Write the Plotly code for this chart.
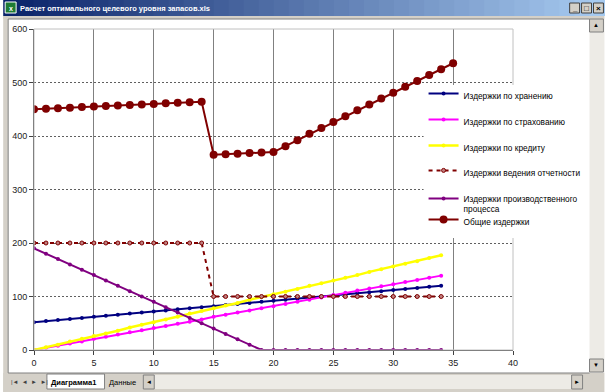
import plotly.graph_objects as go

# ---------------- data ----------------
x_parts = [0, 1, 2, 3, 4, 5, 6, 7, 8, 9, 10, 11, 12, 13, 14, 15, 16, 17, 18, 19,
           20, 21, 22, 23, 24, 25, 26, 27, 28, 29, 30, 31, 32, 33, 34]
x_total = [0, 1, 2, 3, 4, 5, 6, 7, 8, 9, 10, 11, 12, 13, 14, 15, 16, 17, 18, 19,
           20, 21, 22, 23, 24, 25, 26, 27, 28, 29, 30, 31, 32, 33, 34, 35]

storage = [52, 54, 56, 58, 60, 62, 64, 66, 68, 70, 72, 74, 76, 78, 80, 82, 84, 86,
           88, 90, 92, 94, 96, 98, 100, 102, 104, 106, 108, 110, 112, 114, 116, 118, 120]
insurance = [0, 4, 8, 12, 16, 21, 25, 29, 33, 37, 41, 45, 49, 53, 57, 62, 66, 70,
             74, 78, 82, 86, 90, 94, 98, 103, 107, 111, 115, 119, 123, 127, 131, 135, 139]
credit = [0, 5, 10, 16, 21, 26, 31, 36, 42, 47, 52, 57, 62, 68, 73, 78, 83, 88,
          94, 99, 104, 109, 114, 120, 125, 130, 135, 140, 146, 151, 156, 161, 166, 172, 177]
reporting = [200, 200, 200, 200, 200, 200, 200, 200, 200, 200, 200, 200, 200, 200, 200,
             100, 100, 100, 100, 100, 100, 100, 100, 100, 100, 100, 100, 100, 100, 100,
             100, 100, 100, 100, 100]
production = [190, 180, 170, 160, 150, 140, 130, 120, 110, 100, 90, 80, 70, 60, 50,
              40, 30, 20, 10, 0, 0, 0, 0, 0, 0, 0, 0, 0, 0, 0, 0, 0, 0, 0, 0]
total = [450, 451, 452, 453, 454, 455, 456, 457, 458, 459, 460, 461, 462, 463, 464,
         365, 366, 367, 368, 369, 370, 381, 392, 404, 415, 426, 437, 448, 459, 470,
         481, 492, 503, 514, 525, 536]

names = ["Издержки по хранению", "Издержки по страхованию", "Издержки по кредиту",
         "Издержки ведения отчетности", "Издержки производственного<br>процесса",
         "Общие издержки"]

x_ticks = [0, 5, 10, 15, 20, 25, 30, 35, 40]
y_ticks = [0, 100, 200, 300, 400, 500, 600]

window_title = "Расчет оптимального целевого уровня запасов.xls"
sheet_tabs = ["Диаграмма1", "Данные"]

# ---------------- layout helpers ----------------
W, H = 605, 392
L, R, T, B = 31, 92, 29, 42
PW, PH = W - L - R, H - T - B
FONT = "Liberation Sans, Arial, sans-serif"


def px(v):
    return (v - L) / PW


def py(v):
    return (H - B - v) / PH


fig = go.Figure()

series = [
    (x_parts, storage, names[0], "#000080", dict(size=4, symbol="circle"), "solid", 2),
    (x_parts, insurance, names[1], "#FF00FF", dict(size=4, symbol="circle"), "solid", 2),
    (x_parts, credit, names[2], "#FFFF00", dict(size=4, symbol="circle"), "solid", 2.5),
    (x_parts, reporting, names[3], "#800000",
     dict(size=4, symbol="circle", color="#C08080", line=dict(color="#800000", width=1)),
     "4px,4px", 2),
    (x_parts, production, names[4], "#800080", dict(size=4, symbol="circle"), "solid", 2),
    (x_total, total, names[5], "#800000", dict(size=8, symbol="circle"), "solid", 2),
]
legend_ids = ["legend", "legend2", "legend3", "legend4", "legend5", "legend6"]
for (xs, ys, nm, col, mk, dash, w), lid in zip(series, legend_ids):
    m = dict(color=col)
    m.update(mk)
    fig.add_trace(go.Scatter(x=xs, y=ys, name=nm, mode="lines+markers",
                             line=dict(color=col, width=w, dash=dash),
                             marker=m, legend=lid))

shapes = []
annotations = []


def rect(x0, y0, x1, y1, fill, line=None, lw=0, layer="above"):
    shapes.append(dict(type="rect", xref="paper", yref="paper",
                       x0=px(x0), x1=px(x1), y0=py(y1), y1=py(y0),
                       fillcolor=fill, line=dict(color=line or fill, width=lw),
                       layer=layer))


def hline(x0, x1, y, col, w=1, layer="above"):
    shapes.append(dict(type="line", xref="paper", yref="paper",
                       x0=px(x0), x1=px(x1), y0=py(y), y1=py(y),
                       line=dict(color=col, width=w), layer=layer))


def vline(x, y0, y1, col, w=1, layer="above"):
    shapes.append(dict(type="line", xref="paper", yref="paper",
                       x0=px(x), x1=px(x), y0=py(y0), y1=py(y1),
                       line=dict(color=col, width=w), layer=layer))


def text(x, y, s, size=9, col="black", bold=False, anchor="left"):
    annotations.append(dict(xref="paper", yref="paper", x=px(x), y=py(y), text=s,
                            showarrow=False, xanchor=anchor, yanchor="middle",
                            font=dict(size=size, color=col, family=FONT,
                                      weight="bold" if bold else "normal")))


# plot-area border (light gray top & right)
rect(L, T, L + PW, H - B, "rgba(0,0,0,0)", "#C0C0C0", 1)
# white area behind legend
rect(423, 85, 589, 238, "white")

# ---- window frame ----
GRAY = "#D4D0C8"
# title bar gradient
n = 40
c0, c1 = (10, 36, 106), (166, 202, 240)
for i in range(n):
    t = i / (n - 1)
    c = tuple(int(c0[k] + (c1[k] - c0[k]) * t) for k in range(3))
    rect(i * W / n, 0, (i + 1) * W / n + 1, 16, "rgb(%d,%d,%d)" % c)
# icon
rect(2, 2, 13, 13, "#1E7B34", "#FFFFFF", 1)
text(3.5, 8, "x", 7, "white", True)
text(15, 8, window_title, 7.5, "white", True)
# title buttons
for bx, sym in [(570, "_"), (582, "□"), (594, "×")]:
    rect(bx, 3, bx + 10, 13, GRAY, "#404040", 1)
    text(bx + 5, 8, sym, 8, "black", True, "center")
# gray strip under title and left border
rect(0, 16, W, 19, GRAY)
rect(0, 16, 5, H, GRAY)
hline(5, 590, 19, "#808080")
vline(5, 19, 373, "#808080")
# right vertical scrollbar
rect(590, 19, W, 373, "#EDEBE6")
rect(590, 19, 604, 32, GRAY, "#808080", 1)
text(597, 25, "▲", 6, "black", False, "center")
rect(590, 359, 604, 372, GRAY, "#808080", 1)
text(597, 365, "▼", 6, "black", False, "center")
# bottom tab bar
rect(0, 373, W, H, GRAY)
hline(5, 590, 373, "#808080")
text(6, 382, "|◄  ◄  ►  ►|", 6, "#404040")
rect(44, 374, 102, 389, "white", "#808080", 1)
text(46, 382, sheet_tabs[0], 7.5, "black", True)
text(104, 382, sheet_tabs[1], 7.5, "black")
rect(141, 375, 583, 389, "#EDEBE6")
rect(141, 375, 152, 389, GRAY, "#808080", 1)
text(146.5, 382, "◄", 6, "black", False, "center")
rect(572, 375, 583, 389, GRAY, "#808080", 1)
text(577.5, 382, "►", 6, "black", False, "center")

legend_centres = [96, 122, 148, 173, 204, 222]
legend_cfg = {}
for lid, cy in zip(legend_ids, legend_centres):
    legend_cfg[lid] = dict(x=px(423), y=py(cy), xanchor="left", yanchor="middle",
                           bgcolor="rgba(0,0,0,0)", borderwidth=0, itemwidth=30,
                           valign="top",
                           font=dict(size=8.3, family=FONT, color="black"))

fig.update_layout(
    width=W, height=H, autosize=False,
    margin=dict(l=L, r=R, t=T, b=B, pad=0),
    paper_bgcolor="white", plot_bgcolor="white",
    showlegend=True,
    xaxis=dict(range=[0, 40], tickvals=x_ticks, showgrid=True, gridcolor="#808080",
               gridwidth=1, zeroline=False, showline=True, linecolor="#404040",
               linewidth=1, ticks="outside", ticklen=4, tickcolor="#404040",
               tickfont=dict(size=9, family=FONT, color="#222")),
    yaxis=dict(range=[0, 600], tickvals=y_ticks, showgrid=True, gridcolor="#606060",
               griddash="2px,2px", gridwidth=1, zeroline=False, showline=True,
               linecolor="#404040", linewidth=1, ticks="outside", ticklen=4,
               tickcolor="#404040", tickfont=dict(size=9, family=FONT, color="#222")),
    shapes=shapes, annotations=annotations,
    **legend_cfg,
)

fig.write_html("out.html",
               config={"displayModeBar": False},
               post_script="document.body.style.margin='0';"
                           "document.body.style.overflow='hidden';")
